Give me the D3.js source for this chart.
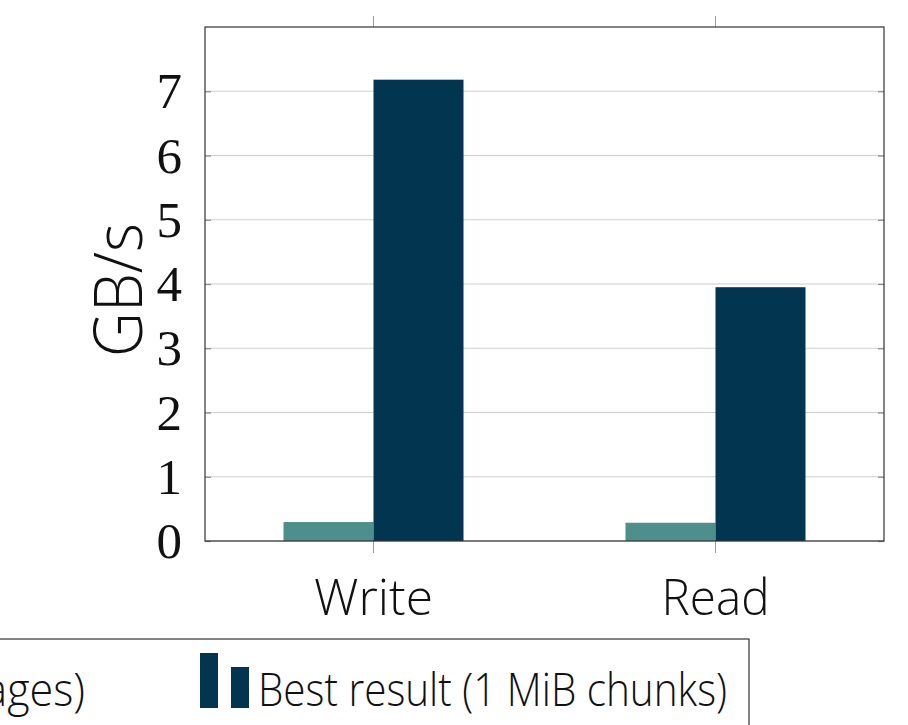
<!DOCTYPE html>
<html>
<head>
<meta charset="utf-8">
<script src="https://cdn.jsdelivr.net/npm/d3@7"></script>
<style>
  html, body { margin: 0; padding: 0; background: #fff; }
  svg { display: block; }
</style>
</head>
<body>
<svg id="chart" width="908" height="725"></svg>
<script>
// ---- data ----
const categories = ["Write", "Read"];
const seriesNames = ["Baseline (4 KiB pages)", "Best result (1 MiB chunks)"];
const baselineValues = [0.295, 0.284];
const bestValues = [7.18, 3.95];
const yTicks = [0, 1, 2, 3, 4, 5, 6, 7];
const yLabel = "GB/s";

(function () {
const colors = ["#4f8f8b", "#02354f"];
const seriesValues = [baselineValues, bestValues];

const svg = d3.select("#chart");
svg.append("rect").attr("width", 908).attr("height", 725).attr("fill", "#fff");

const pL = 205, pR = 884, pT = 27, pB = 541;

const x = d3.scalePoint().domain(categories).range([pL, pR]).padding(0.4927);
const y = d3.scaleLinear().domain([0, 8]).range([pB, pT]);
const barW = 90;
const xs = d3.scaleBand().domain(seriesNames).range([-barW, barW]);

// grid lines
svg.append("g").selectAll("line").data(yTicks).join("line")
  .attr("x1", pL).attr("x2", pR)
  .attr("y1", d => y(d)).attr("y2", d => y(d))
  .attr("stroke", "#cfcfcf").attr("stroke-width", 1.2);

// bars
const data = [];
categories.forEach((c, i) => seriesNames.forEach((s, j) => data.push({c, s, v: seriesValues[j][i], j})));
svg.append("g").selectAll("rect").data(data).join("rect")
  .attr("x", d => x(d.c) + xs(d.s))
  .attr("width", xs.bandwidth())
  .attr("y", d => y(d.v))
  .attr("height", d => y(0) - y(d.v))
  .attr("fill", d => colors[d.j]);

// x ticks (outside, top and bottom)
const xt = svg.append("g");
categories.forEach(c => {
  xt.append("line").attr("x1", x(c)).attr("x2", x(c)).attr("y1", pT - 11).attr("y2", pT)
    .attr("stroke", "#9a9a9a").attr("stroke-width", 1);
  xt.append("line").attr("x1", x(c)).attr("x2", x(c)).attr("y1", pB).attr("y2", pB + 12)
    .attr("stroke", "#9a9a9a").attr("stroke-width", 1);
});

// y tick marks inside on left and right
const yl = d3.axisLeft(y).tickValues(yTicks).tickSize(-6).tickFormat("");
const yr = d3.axisRight(y).tickValues(yTicks).tickSize(-6).tickFormat("");
const gl = svg.append("g").attr("transform", `translate(${pL},0)`).call(yl);
const gr = svg.append("g").attr("transform", `translate(${pR},0)`).call(yr);
[gl, gr].forEach(g => { g.select(".domain").remove(); g.selectAll(".tick line").attr("stroke", "#888").attr("stroke-width", 1.2); });

// frame
svg.append("rect").attr("x", pL).attr("y", pT).attr("width", pR - pL).attr("height", pB - pT)
  .attr("fill", "none").attr("stroke", "#333").attr("stroke-width", 1.2);

// y tick labels
svg.append("g").selectAll("text").data(yTicks).join("text")
  .attr("x", 182).attr("y", d => y(d) + 17)
  .attr("text-anchor", "end")
  .attr("font-family", "'Liberation Serif', serif")
  .attr("font-size", 51)
  .attr("fill", "#111")
  .text(d => d);

// y label
svg.append("text")
  .attr("transform", `translate(142,290) rotate(-90)`)
  .attr("text-anchor", "middle")
  .attr("font-family", "'Open Sans', sans-serif")
  .attr("font-weight", 300)
  .attr("font-size", 66)
  .attr("textLength", 134)
  .attr("lengthAdjust", "spacingAndGlyphs")
  .attr("fill", "#111")
  .text(yLabel);

// x labels
const xLabelW = {Write: 119, Read: 108};
svg.append("g").selectAll("text").data(categories).join("text")
  .attr("x", d => x(d)).attr("y", 615)
  .attr("text-anchor", "middle")
  .attr("font-family", "'Open Sans', sans-serif")
  .attr("font-weight", 300)
  .attr("font-size", 49)
  .attr("textLength", d => xLabelW[d])
  .attr("lengthAdjust", "spacingAndGlyphs")
  .attr("fill", "#111")
  .text(d => d);

// legend
const lg = svg.append("g");
lg.append("rect").attr("x", -20).attr("y", 639).attr("width", 769).attr("height", 120)
  .attr("fill", "#fff").attr("stroke", "#333").attr("stroke-width", 1.2);
const legendItems = [
  {name: seriesNames[0], color: colors[0], iconX: -70, textEnd: 85, textW: 420},
  {name: seriesNames[1], color: colors[1], iconX: 200, textEnd: 727, textW: 469}
];
legendItems.forEach(it => {
  lg.append("rect").attr("x", it.iconX).attr("y", 653).attr("width", 18).attr("height", 55).attr("fill", it.color);
  lg.append("rect").attr("x", it.iconX + 31).attr("y", 667).attr("width", 18).attr("height", 41).attr("fill", it.color);
  lg.append("text").attr("x", it.textEnd - it.textW).attr("y", 706)
    .attr("text-anchor", "start")
    .attr("font-family", "'Open Sans', sans-serif")
    .attr("font-weight", 300)
    .attr("font-size", 46)
    .attr("textLength", it.textW)
    .attr("lengthAdjust", "spacingAndGlyphs")
    .attr("fill", "#111")
    .text(it.name);
});
})();
</script>
</body>
</html>
